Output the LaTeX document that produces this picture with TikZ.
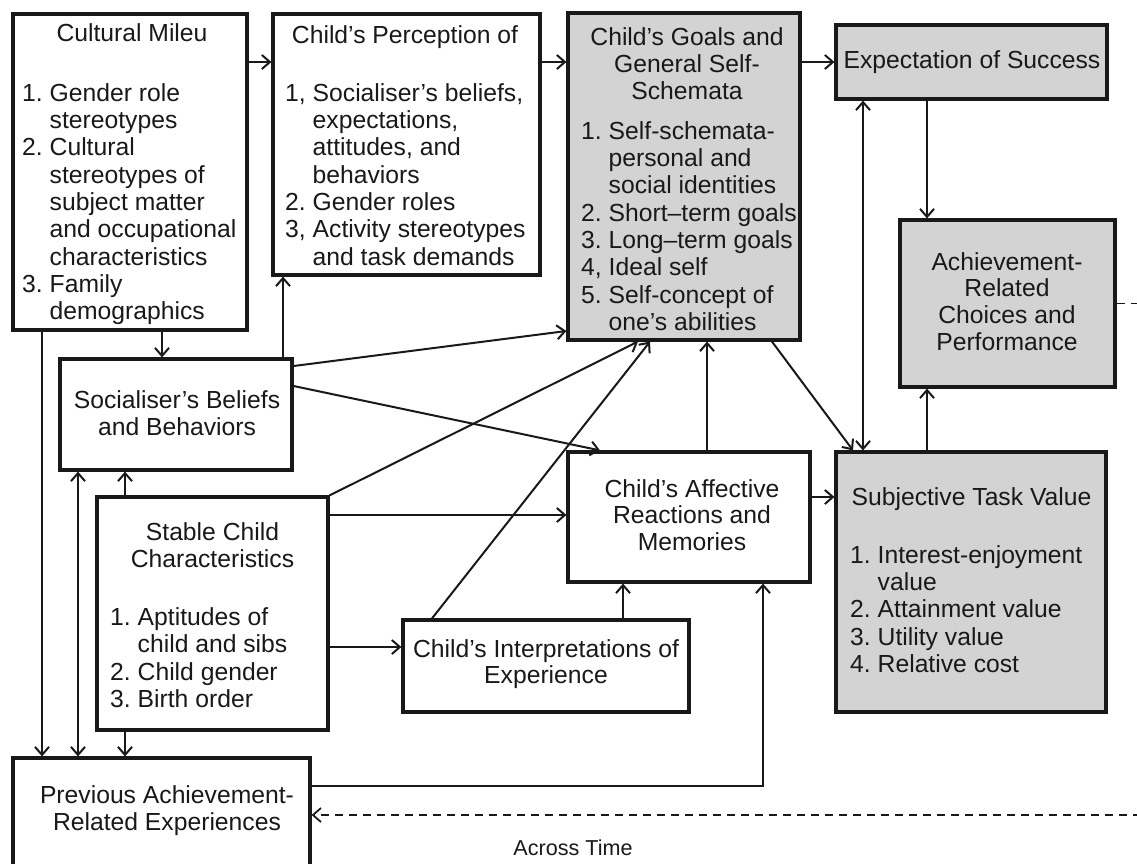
\documentclass[tikz,border=0pt]{standalone}
\usepackage{fontspec}
\setmainfont{Liberation Sans}
\usetikzlibrary{arrows.meta}
\definecolor{boxgray}{RGB}{211,211,211}
\definecolor{ink}{RGB}{25,25,25}
\newcommand\tstr{\rule{0pt}{19pt}}
\newcommand\itm[1]{\makebox[27.5pt][l]{#1}}
\newcommand\cnt{\hspace*{27.5pt}}
\begin{document}
\begin{tikzpicture}[x=1pt,y=-1pt,
  box/.style={draw=ink, line width=3.2pt, inner sep=0pt},
  gbox/.style={box, fill=boxgray},
  txt/.style={inner sep=0pt, font=\fontsize{24.7}{27.3}\selectfont, text=ink},
  ctitle/.style={txt, align=center, anchor=north},
  ltxt/.style={txt, align=left, anchor=north west},
  tip/.tip={Straight Barb[length=8pt,width=14pt]},
  arr/.style={draw=ink, line width=2pt, -tip},
  darr/.style={draw=ink, line width=2pt, tip-tip},
  dashedarr/.style={draw=ink, line width=1.8pt, dash pattern=on 8pt off 6pt, -tip}]
\useasboundingbox (0,0) rectangle (1137,863);
\clip (0,0) rectangle (1137,863);
\fill[white] (0,0) rectangle (1137,863);

% boxes
\node[box,  minimum width=234pt, minimum height=316pt] (cult)   at (130,172) {};
\node[box,  minimum width=267pt, minimum height=261pt] (perc)   at (406.5,144.5) {};
\node[gbox, minimum width=232pt, minimum height=327pt] (goals)  at (684,176.5) {};
\node[gbox, minimum width=271pt, minimum height=74pt]  (exp)    at (971.5,62) {};
\node[gbox, minimum width=215pt, minimum height=167pt] (ach)    at (1007.5,303.5) {};
\node[box,  minimum width=232pt, minimum height=111pt] (soc)    at (176,414.5) {};
\node[box,  minimum width=231pt, minimum height=233pt] (stab)   at (212.5,613.5) {};
\node[box,  minimum width=242pt, minimum height=130pt] (aff)    at (689,517) {};
\node[gbox, minimum width=270pt, minimum height=260pt] (sub)    at (971,582) {};
\node[box,  minimum width=286pt, minimum height=92pt]  (interp) at (546,666) {};
\node[box,  minimum width=297pt, minimum height=142pt] (prev)   at (161.5,829) {};

% texts
\node[ctitle] (cultT) at (132,22.5) {\tstr Cultural Mileu};
\node[ltxt] (cultL) at (22,82) {\tstr\itm{1.}Gender role\\\cnt stereotypes\\\itm{2.}Cultural\\\cnt stereotypes of\\\cnt subject matter\\\cnt and occupational\\\cnt characteristics\\\itm{3.}Family\\\cnt demographics};
\node[ctitle] (percT) at (405,24.5) {\tstr Child’s Perception of};
\node[ltxt] (percL) at (285,82) {\tstr\itm{1,}Socialiser’s beliefs,\\\cnt expectations,\\\cnt attitudes, and\\\cnt behaviors\\\itm{2.}Gender roles\\\itm{3,}Activity stereotypes\\\cnt and task demands};
\node[ctitle] (goalsT) at (687,26) {\tstr Child’s Goals and\\General Self-\\Schemata};
\node[ltxt] (goalsL) at (581,120) {\tstr\itm{1.}Self-schemata-\\\cnt personal and\\\cnt social identities\\\itm{2.}Short–term goals\\\itm{3.}Long–term goals\\\itm{4,}Ideal self\\\itm{5.}Self-concept of\\\cnt one’s abilities};
\node[txt, anchor=base] (expT) at (972,68) {Expectation of Success};
\node[ctitle, font=\fontsize{24.7}{26.7}\selectfont] (achT) at (1007,251) {\tstr Achievement-\\Related\\Choices and\\Performance};
\node[ctitle] (socT) at (177,389) {\tstr Socialiser’s Beliefs\\and Behaviors};
\node[ctitle] (stabT) at (212.5,521) {\tstr Stable Child\\Characteristics};
\node[ltxt, font=\fontsize{24.7}{27.5}\selectfont] (stabL) at (110,606) {\tstr\itm{1.}Aptitudes of\\\cnt child and sibs\\\itm{2.}Child gender\\\itm{3.}Birth order};
\node[ctitle, font=\fontsize{24.7}{26.5}\selectfont] (affT) at (692,478) {\tstr Child’s Affective\\Reactions and\\Memories};
\node[txt, anchor=base] (subT) at (971.5,505) {Subjective Task Value};
\node[ltxt] (subL) at (850,544) {\tstr\itm{1.}Interest-enjoyment\\\cnt value\\\itm{2.}Attainment value\\\itm{3.}Utility value\\\itm{4.}Relative cost};
\node[ctitle, font=\fontsize{24.7}{26.5}\selectfont] (interpT) at (546,638) {\tstr Child’s Interpretations of\\Experience};
\node[ctitle] (prevT) at (167,784) {\tstr Previous Achievement-\\Related Experiences};
\node[txt, anchor=base, font=\fontsize{21.6}{24}\selectfont] (timeT) at (573,855) {Across Time};

% helper coordinates
\coordinate (h62) at (0,62);
\coordinate (h331) at (0,331);
\coordinate (h366) at (0,366);
\coordinate (h386) at (0,386);
\coordinate (h497) at (0,497);
\coordinate (h515) at (0,515);
\coordinate (h647) at (0,647);
\coordinate (h786) at (0,786);
\coordinate (h815) at (0,815);
\coordinate (v42) at (42,0);
\coordinate (v78) at (78,0);
\coordinate (v125) at (125,0);
\coordinate (v162) at (162,0);
\coordinate (v283) at (283,0);
\coordinate (v432) at (432,0);
\coordinate (v600) at (600,0);
\coordinate (v623) at (623,0);
\coordinate (v638) at (638,0);
\coordinate (v650) at (650,0);
\coordinate (v707) at (707,0);
\coordinate (v763) at (763,0);
\coordinate (v772) at (772,0);
\coordinate (v853) at (853,0);
\coordinate (v863) at (863,0);
\coordinate (v927) at (927,0);
\coordinate (dr1) at (1160,303.5);
\coordinate (dr2) at (1160,815);

% connectors
\draw[arr] (cult.east |- h62) -- (perc.west |- h62);
\draw[arr] (perc.east |- h62) -- (goals.west |- h62);
\draw[arr] (goals.east |- h62) -- (exp.west |- h62);
\draw[arr] (exp.south -| v927) -- (ach.north -| v927);
\draw[arr] (sub.north -| v927) -- (ach.south -| v927);
\draw[darr] (exp.south -| v863) -- (sub.north -| v863);
\draw[arr] (goals.south -| v772) -- (sub.north -| v853);
\draw[arr] (aff.north -| v707) -- (goals.south -| v707);
\draw[arr] (aff.east |- h497) -- (sub.west |- h497);
\draw[arr] (soc.north -| v283) -- (perc.south -| v283);
\draw[arr] (cult.south -| v162) -- (soc.north -| v162);
\draw[arr] (cult.south -| v42) -- (prev.north -| v42);
\draw[arr] (soc.east |- h366) -- (goals.west |- h331);
\draw[arr] (soc.east |- h386) -- (aff.north -| v600);
\draw[arr] (stab.north east) -- (goals.south -| v638);
\draw[arr] (interp.north -| v432) -- (goals.south -| v650);
\draw[arr] (stab.east |- h515) -- (aff.west |- h515);
\draw[arr] (stab.east |- h647) -- (interp.west |- h647);
\draw[arr] (interp.north -| v623) -- (aff.south -| v623);
\draw[arr] (prev.east |- h786) -| (aff.south -| v763);
\draw[arr] (stab.north -| v125) -- (soc.south -| v125);
\draw[darr] (soc.south -| v78) -- (prev.north -| v78);
\draw[arr] (stab.south -| v125) -- (prev.north -| v125);
\draw[dashedarr] (ach.east) -- (dr1) -- (dr2) -- (prev.east |- h815);
\end{tikzpicture}
\end{document}
